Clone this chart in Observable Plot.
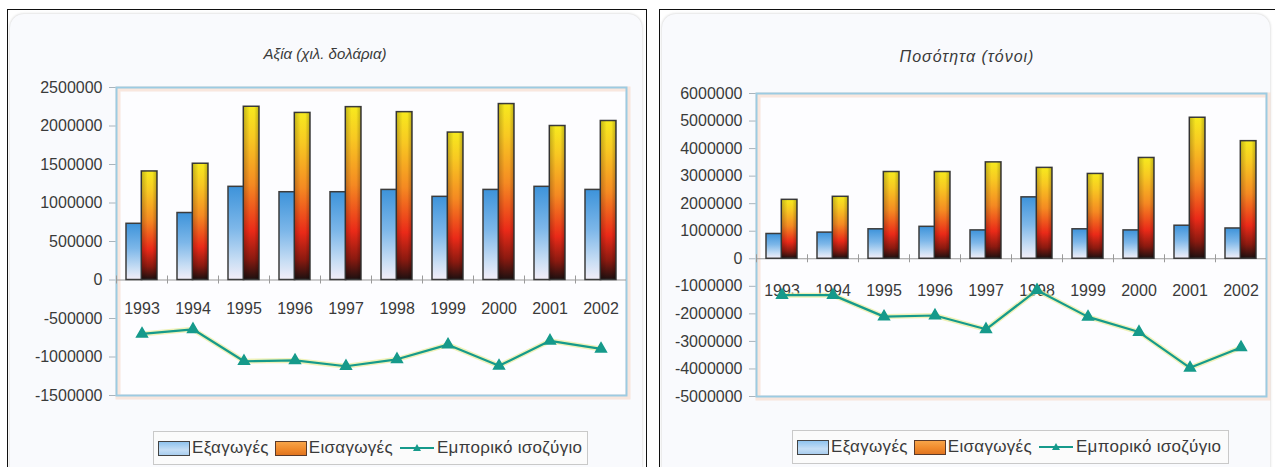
<!DOCTYPE html>
<html>
<head>
<meta charset="utf-8">
<script src="https://cdn.jsdelivr.net/npm/d3@7"></script>
<script src="https://cdn.jsdelivr.net/npm/@observablehq/plot@0.6"></script>
<style>
  body { margin: 0; background: #fff; width: 1275px; height: 467px; overflow: hidden; position: relative;
         font-family: "Liberation Sans", Arial, sans-serif; }
  .frame { position: absolute; border-top: 1.5px solid #111; border-left: 1.5px solid #111; box-sizing: border-box; }
  .box { position: absolute; background: #f9fafd; border-radius: 14px; box-shadow: 0 0 3px rgba(0,0,0,0.22); }
  .title { position: absolute; font-style: italic; font-size: 15px; color: #3a3a3a; transform: translateX(-50%); white-space: nowrap; }
  .chart { position: absolute; }
  .legend { position: absolute; border: 1px solid #c9c9c9; background: #fbfbfb; box-sizing: border-box;
            display: flex; align-items: center; padding-left: 4px; font-size: 17px; letter-spacing: 0.3px; color: #3a3a3a; white-space: nowrap; }
  .sw { width: 32px; height: 15px; border: 1.5px solid #444; box-sizing: border-box; margin-right: 2px; }
  .item { display: flex; align-items: center; margin-right: 6px; }
  svg g[aria-label="y-axis"] line, svg g[aria-label="y-axis tick"] { stroke: #a9b4bc; }
</style>
</head>
<body>
<script>
// Years on the category axis
const years = [1993, 1994, 1995, 1996, 1997, 1998, 1999, 2000, 2001, 2002];

// Value, in thousand dollars
const valueExports = [730000, 870000, 1210000, 1140000, 1140000, 1170000, 1080000, 1170000, 1210000, 1170000];
const valueImports = [1410000, 1510000, 2250000, 2170000, 2245000, 2180000, 1915000, 2285000, 2000000, 2065000];
const valueBalance = [-700000, -640000, -1055000, -1045000, -1120000, -1030000, -840000, -1115000, -790000, -895000];
const valueTicks = [-1500000, -1000000, -500000, 0, 500000, 1000000, 1500000, 2000000, 2500000];

// Quantity, in tonnes
const qtyExports = [900000, 950000, 1070000, 1160000, 1030000, 2230000, 1070000, 1030000, 1200000, 1100000];
const qtyImports = [2140000, 2250000, 3150000, 3150000, 3500000, 3300000, 3080000, 3660000, 5120000, 4270000];
const qtyBalance = [-1320000, -1320000, -2100000, -2060000, -2560000, -1140000, -2110000, -2660000, -3960000, -3220000];
const qtyTicks = [-5000000, -4000000, -3000000, -2000000, -1000000, 0, 1000000, 2000000, 3000000, 4000000, 5000000, 6000000];

const seriesNames = ["Εξαγωγές", "Εισαγωγές", "Εμπορικό ισοζύγιο"];
const titleValue = "Αξία (χιλ. δολάρια)";
const titleQty = "Ποσότητα (τόνοι)";

const teal = "#169a8b";

function el(tag, cls, css) {
  const e = document.createElement(tag);
  if (cls) e.className = cls;
  Object.assign(e.style, css || {});
  document.body.appendChild(e);
  return e;
}

function legend(left, top, width) {
  const lg = el("div", "legend", {left: left + "px", top: top + "px", width: width + "px", height: "34px"});
  const a = document.createElement("div"); a.className = "item";
  a.innerHTML = `<div class="sw" style="background:linear-gradient(#8fc3ee,#c5def5 60%,#a9cdee)"></div>${seriesNames[0]}`;
  const b = document.createElement("div"); b.className = "item";
  b.innerHTML = `<div class="sw" style="background:linear-gradient(#f7a449,#f08a2c 55%,#e07420);border-color:#5a3a2a"></div>${seriesNames[1]}`;
  const c = document.createElement("div"); c.className = "item";
  c.innerHTML = `<svg width="36" height="16" style="margin-right:2px"><line x1="1" x2="35" y1="8" y2="8" stroke="${teal}" stroke-width="2"/><path d="M18,4 L22,11 L14,11 Z" fill="${teal}"/></svg>${seriesNames[2]}`;
  lg.append(a, b, c);
}

function drawChart({id, left, top, width, height, margins, domain, ticks, exportsV, importsV, balanceV, labelDy}) {
  const [mt, mr, mb, ml] = margins;
  const step = (width - ml - mr) / years.length;
  const half = step * 0.6 / 2;
  const rows = years.map((y, i) => ({year: y, exp: exportsV[i], imp: importsV[i], bal: balanceV[i]}));

  const svg = Plot.plot({
    width, height,
    marginTop: mt, marginRight: mr, marginBottom: mb, marginLeft: ml,
    style: {background: "transparent", fontSize: "16px", fontFamily: "'Liberation Sans', Arial, sans-serif", color: "#3a3a3a"},
    x: {type: "band", domain: years, paddingInner: 0.4, paddingOuter: 0.2, axis: null},
    y: {domain, ticks, tickFormat: d => String(d), tickSize: 7, tickPadding: 7, label: null},
    marks: [
      Plot.frame({fill: "#fdfdff", stroke: "#f7d9c8", strokeWidth: 5, strokeOpacity: 0.6, dx: 1.5, dy: 1.5}),
      Plot.frame({stroke: "#9ccbe2", strokeWidth: 2}),
      Plot.ruleY([0], {stroke: "#9a9a9a", strokeWidth: 1.2}),
      Plot.ruleX(years, {x: d => d, y1: 0, y2: 0, insetTop: -4, insetBottom: -4, dx: -step / 2, stroke: "#9a9a9a"}),
      Plot.barY(rows, {x: "year", y: "exp", insetRight: half, fill: `url(#${id}-exp)`, stroke: "#3c3c3c", strokeWidth: 1.5}),
      Plot.barY(rows, {x: "year", y: "imp", insetLeft: half, fill: `url(#${id}-imp)`, stroke: "#3c3c3c", strokeWidth: 1.5}),
      Plot.barY(rows, {x: "year", y: "imp", insetLeft: half, fill: `url(#${id}-cyl)`}),
      Plot.text(years, {x: d => d, y: 0, dy: labelDy, text: d => String(d), fill: "#3a3a3a"}),
      Plot.line(rows, {x: "year", y: "bal", stroke: "#e9ec9a", strokeWidth: 5, strokeOpacity: 0.7}),
      Plot.line(rows, {x: "year", y: "bal", stroke: teal, strokeWidth: 2.2}),
      Plot.dot(rows, {x: "year", y: "bal", symbol: "triangle", r: 4, fill: teal, stroke: teal})
    ]
  });
  svg.insertAdjacentHTML("afterbegin", `<defs>
    <linearGradient id="${id}-exp" x1="0" y1="0" x2="0" y2="1">
      <stop offset="0" stop-color="#3d93da"/><stop offset="0.45" stop-color="#7db7e9"/>
      <stop offset="0.8" stop-color="#c9def4"/><stop offset="1" stop-color="#f3eef8"/>
    </linearGradient>
    <linearGradient id="${id}-imp" x1="0" y1="0" x2="0" y2="1">
      <stop offset="0" stop-color="#f7ea1e"/><stop offset="0.18" stop-color="#f8c922"/>
      <stop offset="0.45" stop-color="#f58a22"/><stop offset="0.72" stop-color="#ea2a18"/>
      <stop offset="0.88" stop-color="#8c1a10"/><stop offset="1" stop-color="#1c1010"/>
    </linearGradient>
    <linearGradient id="${id}-cyl" x1="0" y1="0" x2="1" y2="0">
      <stop offset="0" stop-color="#000" stop-opacity="0.22"/><stop offset="0.4" stop-color="#000" stop-opacity="0"/>
      <stop offset="0.7" stop-color="#000" stop-opacity="0"/><stop offset="1" stop-color="#000" stop-opacity="0.25"/>
    </linearGradient></defs>`);
  svg.classList.add("chart");
  svg.style.left = left + "px";
  svg.style.top = top + "px";
  document.body.appendChild(svg);
}

// Left panel: value
el("div", "frame", {left: "7px", top: "9px", width: "640px", height: "470px", borderRight: "1.5px solid #111"});
el("div", "box", {left: "10px", top: "14px", width: "632px", height: "470px"});
el("div", "title", {left: "325px", top: "45px"}).textContent = titleValue;
drawChart({id: "val", left: 10, top: 70, width: 630, height: 340, margins: [17, 14, 15, 106],
  domain: [-1500000, 2500000], ticks: valueTicks, exportsV: valueExports, importsV: valueImports, balanceV: valueBalance, labelDy: 29});
legend(153, 431, 435);

// Right panel: quantity
el("div", "frame", {left: "659px", top: "9px", width: "700px", height: "470px"});
el("div", "box", {left: "662px", top: "14px", width: "608px", height: "470px"});
el("div", "title", {left: "967px", top: "48px", fontSize: "16px", letterSpacing: "1px"}).textContent = titleQty;
drawChart({id: "qty", left: 662, top: 70, width: 610, height: 340, margins: [23, 6, 14, 94],
  domain: [-5000000, 6000000], ticks: qtyTicks, exportsV: qtyExports, importsV: qtyImports, balanceV: qtyBalance, labelDy: 32});
legend(792, 430, 437);
</script>
</body>
</html>
